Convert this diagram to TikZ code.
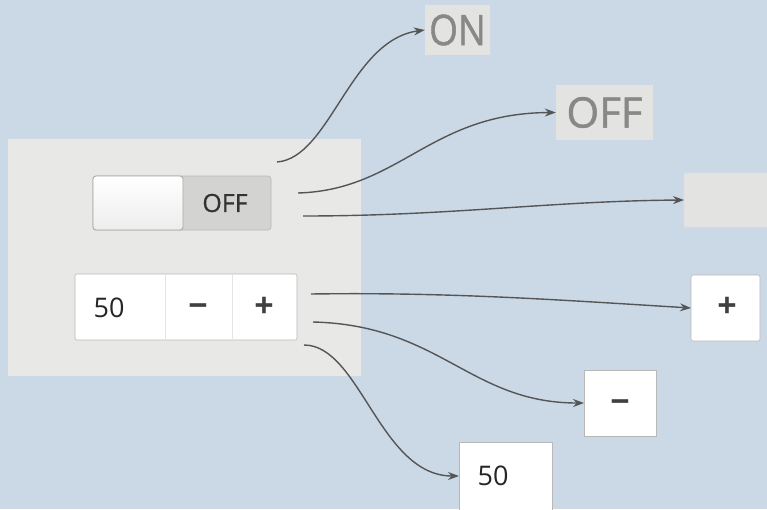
\documentclass[tikz,border=0pt]{standalone}
\usepackage{fontspec}
\setmainfont{Open Sans}
\newfontfamily\heavyfont[FakeBold=1.2]{Open Sans}
\newfontfamily\semifont[FakeBold=0.6]{Open Sans}
\usetikzlibrary{arrows.meta}
\definecolor{bgblue}{HTML}{CBD9E7}
\definecolor{panel}{HTML}{E8E8E6}
\definecolor{togglegray}{HTML}{D3D3D1}
\definecolor{lightbox}{HTML}{E3E3E2}
\definecolor{edgegray}{HTML}{B8B8B8}
\definecolor{wire}{HTML}{555555}
\definecolor{bigtxt}{HTML}{888888}
\tikzset{
  conn/.style={draw=wire, line width=1.4pt, -{Stealth[length=11pt,width=8pt]}},
  whitebox/.style={fill=white, draw=edgegray, line width=0.6pt, rounded corners=2pt},
  bigword/.style={fill=lightbox, text=bigtxt, font=\heavyfont\fontsize{42}{42}\selectfont, inner sep=0pt},
  numtxt/.style={font=\fontsize{27}{27}\selectfont, text=black!85},
  signtxt/.style={font=\fontsize{34}{34}\selectfont\bfseries, text=black!75},
  minustxt/.style={signtxt, anchor=base},
}
\begin{document}
\begin{tikzpicture}[x=1pt,y=-1pt]
\fill[bgblue] (0,0) rectangle (767,509);
\useasboundingbox (0,0) rectangle (767,509);
% panel
\fill[panel] (8,139) rectangle (361,376);
% toggle
\fill[togglegray, draw=edgegray, line width=0.6pt, rounded corners=3pt] (93,176) rectangle (271,230);
\node[fill=togglegray, inner sep=0pt, minimum width=86pt, minimum height=52pt, font=\semifont\fontsize{25}{25}\selectfont, text=black!80] (offlabel) at (225,203) {OFF};
\shade[top color=white, bottom color=white!93!black, draw=edgegray!90!black, line width=0.8pt, rounded corners=3pt] (93,176) rectangle (183,230);
% spin box
\draw[whitebox] (75,274) rectangle (297,340);
\draw[draw=black!10, line width=0.6pt] (165,275) -- (165,339);
\draw[draw=black!10, line width=0.6pt] (232,275) -- (232,339);
\node[numtxt] (val) at (109,308) {50};
\node[minustxt] (minus) at (198,317) {−};
\node[signtxt] (plus) at (264,307) {+};
% targets
\node[bigword, minimum width=65pt, minimum height=50pt] (on) at (457.5,30) {\scalebox{0.88}[1]{ON}};
\node[bigword, minimum width=97pt, minimum height=55pt] (off) at (604.5,112.5) {OFF};
\draw[fill=lightbox, draw=black!12, line width=0.6pt, rounded corners=2pt] (684,173) rectangle (775,227);
\coordinate (blank) at (684,200);
\draw[whitebox] (691,275) rectangle (760,341);
\node[signtxt] (tplus) at (727,307) {+};
\draw[whitebox, rounded corners=0pt] (584,370) rectangle (656,436);
\node[minustxt] (tminus) at (620,413) {−};
\draw[whitebox, rounded corners=0pt] (459,442) rectangle (552,515);
\node[numtxt] (tval) at (493,476) {50};
% connector start points
\coordinate (s1) at (277,162);
\coordinate (s2) at (298,193);
\coordinate (s3) at (303,216);
\coordinate (s4) at (311,294);
\coordinate (s5) at (313,322);
\coordinate (s6) at (304,345);
% connectors
\draw[conn] (s1) .. controls (330,158) and (350,40) .. (on.west);
\draw[conn] (s2) .. controls (400,190) and (430,113) .. (off.west);
\draw[conn] (s3) .. controls (450,216) and (550,201) .. (blank);
\draw[conn] (s4) .. controls (450,292) and (560,300) .. (691,308);
\draw[conn] (s5) .. controls (440,325) and (470,403) .. (584,403);
\draw[conn] (s6) .. controls (360,345) and (380,476) .. (459,476);
\end{tikzpicture}
\end{document}
